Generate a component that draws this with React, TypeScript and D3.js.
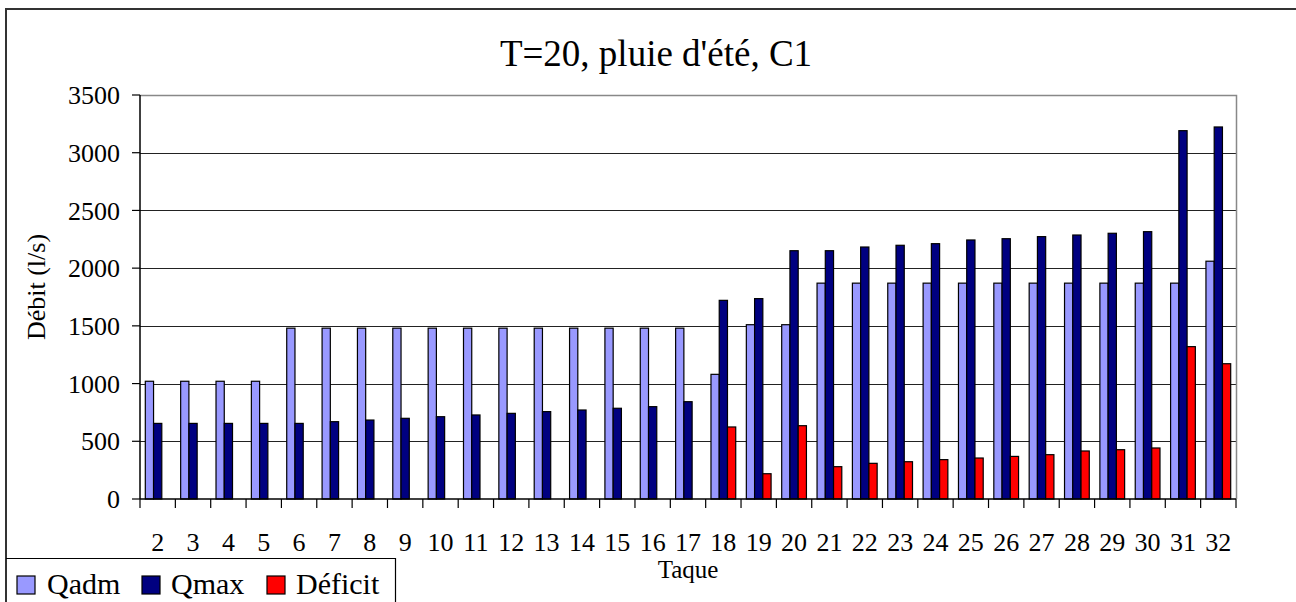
import React from "react";
import * as d3 from "d3";

// données (débit en l/s par taque)
const categories = [
  "2", "3", "4", "5", "6", "7", "8", "9", "10", "11", "12", "13", "14", "15", "16", "17",
  "18", "19", "20", "21", "22", "23", "24", "25", "26", "27", "28", "29", "30", "31", "32",
];
const qadm = [
  1020, 1020, 1020, 1020, 1480, 1480, 1480, 1480, 1480, 1480, 1480, 1480, 1480, 1480, 1480, 1480,
  1080, 1510, 1510, 1870, 1870, 1870, 1870, 1870, 1870, 1870, 1870, 1870, 1870, 1870, 2060,
];
const qmax = [
  655, 655, 655, 655, 655, 670, 684, 699, 713, 728, 742, 757, 771, 786, 800, 843,
  1721, 1736, 2151, 2151, 2183, 2198, 2212, 2244, 2255, 2273, 2287, 2302, 2316, 3191, 3223,
];
const deficit: (number | null)[] = [
  null, null, null, null, null, null, null, null, null, null, null, null, null, null, null, null,
  624, 219, 635, 280, 309, 323, 341, 355, 369, 384, 416, 427, 442, 1320, 1172,
];
const seriesNames = ["Qadm", "Qmax", "Déficit"];
const seriesColors = ["#9999FF", "#000080", "#FF0000"];
const yTicks = [0, 500, 1000, 1500, 2000, 2500, 3000, 3500];

const FONT = "Liberation Serif, DejaVu Serif, Times New Roman, serif";

const App: React.FC = () => {
  const width = 1296;
  const height = 602;
  const plot = { left: 140, right: 1236, top: 95, bottom: 499 };

  const x0 = d3
    .scaleBand<string>()
    .domain(categories)
    .range([plot.left, plot.right])
    .paddingInner(0.3)
    .paddingOuter(0.15);
  const x1 = d3
    .scaleBand<string>()
    .domain(seriesNames)
    .range([0, x0.bandwidth()]);
  const y = d3.scaleLinear().domain([0, 3500]).range([plot.bottom, plot.top]);

  const values = [qadm, qmax, deficit];
  const step = x0.step();
  const boundaries = d3.range(categories.length + 1).map((i) => plot.left + i * step);

  // légende
  const legendItems = [
    { sq: 17, tx: 47 },
    { sq: 142, tx: 171 },
    { sq: 267, tx: 296 },
  ];

  return (
    <svg
      width={width}
      height={height}
      style={{ position: "absolute", left: 0, top: 0, background: "#fff", fontFamily: FONT }}
    >
      {/* cadre du graphique */}
      <path d={`M6,${height}V9H${width}`} fill="none" stroke="#333" strokeWidth={2} />

      <text x={656} y={66} textAnchor="middle" fontSize={37} fill="#000">
        T=20, pluie d'été, C1
      </text>

      {/* grille */}
      {yTicks.slice(1, -1).map((t) => (
        <line
          key={t}
          x1={plot.left}
          x2={plot.right}
          y1={Math.round(y(t)) + 0.5}
          y2={Math.round(y(t)) + 0.5}
          stroke="#222"
          strokeWidth={1}
        />
      ))}
      <path
        d={`M${plot.left},${y(3500) + 0.5}H${plot.right + 0.5}V${plot.bottom}`}
        fill="none"
        stroke="#888"
        strokeWidth={1.5}
      />

      {/* barres */}
      {categories.map((c, i) => (
        <g key={c} transform={`translate(${x0(c)},0)`}>
          {seriesNames.map((s, j) => {
            const v = values[j][i];
            if (v === null || v === undefined) return null;
            return (
              <rect
                key={s}
                x={x1(s)}
                y={y(v)}
                width={x1.bandwidth()}
                height={y(0) - y(v)}
                fill={seriesColors[j]}
                stroke="#000"
                strokeWidth={1.2}
              />
            );
          })}
        </g>
      ))}

      {/* axe Y */}
      <line x1={plot.left} x2={plot.left} y1={plot.top} y2={plot.bottom} stroke="#000" strokeWidth={1.5} />
      {yTicks.map((t) => (
        <g key={t}>
          <line x1={plot.left - 8} x2={plot.left} y1={y(t)} y2={y(t)} stroke="#000" strokeWidth={1.2} />
          <text
            x={120}
            y={y(t)}
            dy="0.35em"
            textAnchor="end"
            fontSize={26}
            fill="#000"
          >
            {t}
          </text>
        </g>
      ))}
      <text
        transform={`translate(45,287) rotate(-90)`}
        textAnchor="middle"
        fontSize={26}
        fill="#000"
      >
        Débit (l/s)
      </text>

      {/* axe X */}
      <line x1={plot.left} x2={plot.right} y1={plot.bottom} y2={plot.bottom} stroke="#000" strokeWidth={1.5} />
      {boundaries.map((bx, i) => (
        <line key={i} x1={bx} x2={bx} y1={plot.bottom} y2={plot.bottom + 9} stroke="#000" strokeWidth={1.2} />
      ))}
      {categories.map((c) => (
        <text
          key={c}
          x={(x0(c) ?? 0) + x0.bandwidth() / 2}
          y={551}
          textAnchor="middle"
          fontSize={26}
          fill="#000"
        >
          {c}
        </text>
      ))}
      <text x={(plot.left + plot.right) / 2} y={578} textAnchor="middle" fontSize={25} fill="#000">
        Taque
      </text>

      {/* légende */}
      <path d={`M6,558.5H395.5V${height}`} fill="none" stroke="#000" strokeWidth={1.2} />
      {seriesNames.map((s, j) => (
        <g key={s}>
          <rect
            x={legendItems[j].sq}
            y={576}
            width={18}
            height={18}
            fill={seriesColors[j]}
            stroke="#000"
            strokeWidth={1.2}
          />
          <text x={legendItems[j].tx} y={594} fontSize={30} fill="#000">
            {s}
          </text>
        </g>
      ))}
    </svg>
  );
};

export default App;
